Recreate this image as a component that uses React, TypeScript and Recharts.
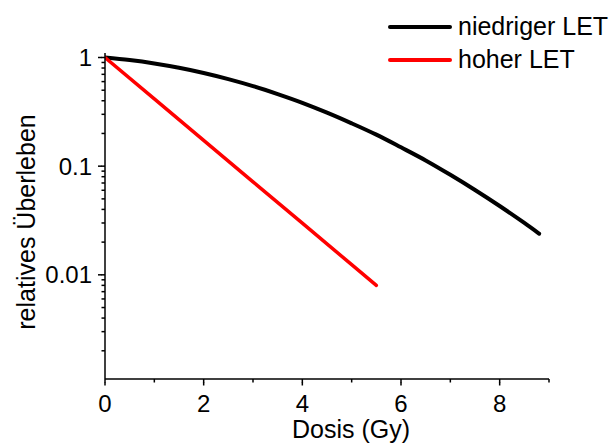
import { LineChart, Line, XAxis, YAxis, Legend, Label } from "recharts";

// dose values in Gy
const lowLetDose = [0, 0.5, 1, 1.5, 2, 2.5, 3, 3.5, 4, 4.5, 5, 5.5, 6, 6.5, 7, 7.5, 8, 8.5, 8.8];
// survival fraction
const lowLetSurvival = [
  1, 0.948, 0.882, 0.805, 0.721, 0.633, 0.546, 0.461, 0.383, 0.311, 0.248, 0.195, 0.149, 0.113,
  0.0833, 0.0604, 0.043, 0.03, 0.0239,
];
const highLetDose = [0, 1, 2, 3, 4, 5, 5.5];
const highLetSurvival = [1, 0.416, 0.173, 0.0718, 0.0299, 0.0124, 0.008];

const xTicks = [0, 1, 2, 3, 4, 5, 6, 7, 8, 9];
const xMajor = [0, 2, 4, 6, 8];
const yTicks = [
  0.002, 0.003, 0.004, 0.005, 0.006, 0.007, 0.008, 0.009, 0.01, 0.02, 0.03, 0.04, 0.05, 0.06, 0.07,
  0.08, 0.09, 0.1, 0.2, 0.3, 0.4, 0.5, 0.6, 0.7, 0.8, 0.9, 1,
];
const yMajor = [0.01, 0.1, 1];

const seriesNames = ["niedriger LET", "hoher LET"];
const seriesColors = ["#000000", "#ff0000"];

const lowLet = lowLetDose.map((d, i) => ({ d, s: lowLetSurvival[i] }));
const highLet = highLetDose.map((d, i) => ({ d, s: highLetSurvival[i] }));

const FONT = '"Liberation Sans", Arial, sans-serif';
const MINOR = 3.5;
const axisStroke = { stroke: "#000", strokeWidth: 1.5 };

// minor tick lines come from recharts, majors get an extra stub here plus the label
function XTick(props: any) {
  const value = props.payload?.value;
  if (!xMajor.includes(value)) return <g />;
  const x = Number(props.x);
  const y = Number(props.y);
  return (
    <g>
      <line x1={x} x2={x} y1={y - 0.5} y2={y + 3} stroke="#000" strokeWidth={1.5} />
      <text x={x} y={y + 29.5} textAnchor="middle" fontSize={24} fontFamily={FONT} fill="#000">
        {value}
      </text>
    </g>
  );
}

function YTick(props: any) {
  const value = props.payload?.value;
  if (!yMajor.some((v) => Math.abs(v - value) < 1e-9)) return <g />;
  const x = Number(props.x);
  const y = Number(props.y);
  return (
    <g>
      <line x1={x + 0.5} x2={x - 3.5} y1={y} y2={y} stroke="#000" strokeWidth={1.5} />
      <text x={x - 9.5} y={y + 8.5} textAnchor="end" fontSize={24} fontFamily={FONT} fill="#000">
        {String(value)}
      </text>
    </g>
  );
}

function LegendBox() {
  return (
    <div style={{ fontFamily: FONT, fontSize: 25, color: "#000" }}>
      {seriesNames.map((name, i) => (
        <div key={name} style={{ display: "flex", alignItems: "center", height: 33 }}>
          <svg width={64} height={6} style={{ display: "block" }}>
            <line x1={2} x2={62} y1={3} y2={3} stroke={seriesColors[i]} strokeWidth={4} strokeLinecap="round" />
          </svg>
          <span style={{ marginLeft: 6, lineHeight: "33px" }}>{name}</span>
        </div>
      ))}
    </div>
  );
}

export default function App() {
  return (
    <div style={{ position: "absolute", left: 0, top: 0, background: "#fff" }}>
      <LineChart width={616} height={445} margin={{ top: 53, right: 67, bottom: 0, left: 0 }}>
        <XAxis
          type="number"
          dataKey="d"
          domain={[0, 9]}
          ticks={xTicks}
          interval={0}
          height={66}
          tickSize={MINOR}
          tickMargin={0}
          tickLine={axisStroke}
          tick={(p: any) => <XTick {...p} />}
          axisLine={axisStroke}
          allowDataOverflow
        >
          <Label
            content={() => (
              <text x={351} y={438} textAnchor="middle" fontSize={25} fontFamily={FONT} fill="#000">
                Dosis (Gy)
              </text>
            )}
          />
        </XAxis>
        <YAxis
          type="number"
          dataKey="s"
          scale="log"
          domain={[0.0011, 1.1]}
          ticks={yTicks}
          interval={0}
          width={105}
          tickSize={MINOR}
          tickMargin={0}
          tickLine={axisStroke}
          tick={(p: any) => <YTick {...p} />}
          axisLine={axisStroke}
          allowDataOverflow
        >
          <Label
            content={() => (
              <text x={35} y={222} textAnchor="middle" fontSize={25} fontFamily={FONT} fill="#000" transform="rotate(-90, 35, 222)">
                relatives Überleben
              </text>
            )}
          />
        </YAxis>
        <Legend
          layout="vertical"
          align="center"
          verticalAlign="middle"
          content={<LegendBox />}
          wrapperStyle={{ left: 388, top: 10, width: 230 }}
        />
        <Line
          data={lowLet}
          dataKey="s"
          name={seriesNames[0]}
          type="monotone"
          stroke={seriesColors[0]}
          strokeWidth={4}
          strokeLinecap="round"
          dot={false}
          activeDot={false}
          isAnimationActive={false}
        />
        <Line
          data={highLet}
          dataKey="s"
          name={seriesNames[1]}
          type="linear"
          stroke={seriesColors[1]}
          strokeWidth={3.5}
          strokeLinecap="round"
          dot={false}
          activeDot={false}
          isAnimationActive={false}
        />
      </LineChart>
    </div>
  );
}
